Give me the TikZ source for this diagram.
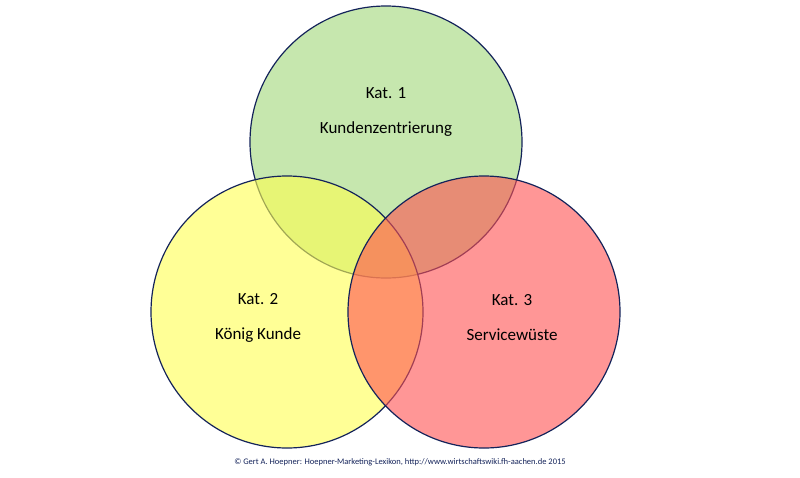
\documentclass[tikz,border=0pt]{standalone}
\usepackage{fontspec}
\setmainfont{Carlito}
\usetikzlibrary{positioning}
\definecolor{katgreen}{RGB}{160,215,120}
\definecolor{katyellow}{RGB}{255,255,80}
\definecolor{katred}{RGB}{255,80,80}
\definecolor{katline}{RGB}{20,35,90}
\tikzset{
set/.style={circle,draw=katline,line width=1.2pt,minimum size=272pt,fill opacity=0.6,text opacity=1,align=center,font=\fontsize{17}{30}\selectfont},
}
\begin{document}
\begin{tikzpicture}[x=1pt,y=-1pt]
    \useasboundingbox (0,0) rectangle (800,477);
    \node[set,fill=katgreen] (kat1) at (386,142) {};
    \node[set,fill=katyellow] (kat2) at (287,312) {};
    \node[set,fill=katred] (kat3) at (484,312) {};
    \node[align=center,font=\fontsize{17}{35}\selectfont] (t1) at (386,112) {Kat. 1\\Kundenzentrierung};
    \node[align=center,font=\fontsize{17}{35}\selectfont] (t2) at (258,318) {Kat. 2\\König Kunde};
    \node[align=center,font=\fontsize{17}{35}\selectfont] (t3) at (512,318) {Kat. 3\\Servicewüste};
    \node[font=\fontsize{8.5}{10}\selectfont,text=katline] (foot) at (400,462) {© Gert A. Hoepner: Hoepner-Marketing-Lexikon, http://www.wirtschaftswiki.fh-aachen.de 2015};
\end{tikzpicture}
\end{document}
